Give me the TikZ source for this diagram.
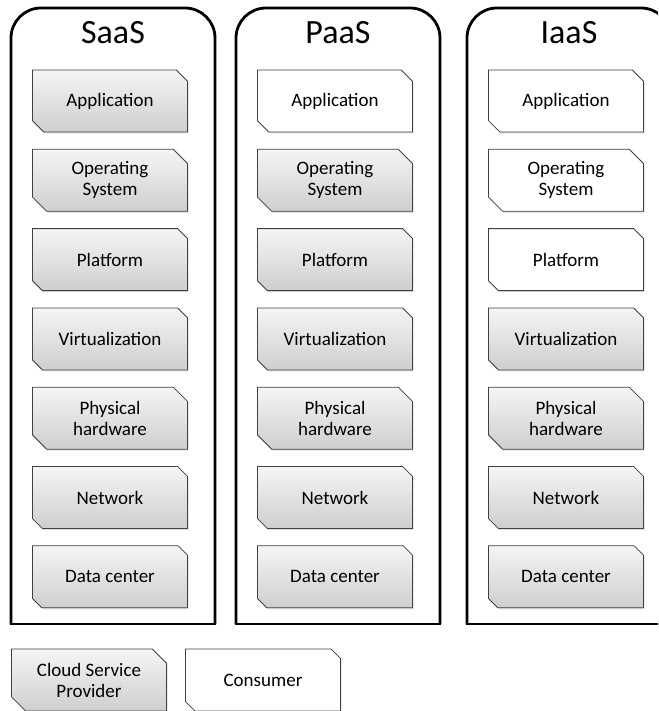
\documentclass[tikz,border=0pt]{standalone}
\usepackage{fontspec}
\setmainfont{Carlito}
\usetikzlibrary{shapes.misc,shadows}
\begin{document}
\begin{tikzpicture}[x=1pt,y=-1pt]
    \tikzstyle{layer}=[chamfered rectangle,chamfered rectangle corners={north east,south west},
      chamfered rectangle xsep=11pt,draw=black!75,line width=0.8pt,minimum width=155pt,minimum height=62pt,
      inner sep=0pt,align=center,font=\fontsize{19}{21}\selectfont,
      drop shadow={opacity=0.25,shadow xshift=1pt,shadow yshift=-1.5pt}]
    \tikzset{
    provider/.style={layer,top color=gray!8,bottom color=gray!38},
    consumer/.style={layer,fill=white},
    column/.style={line width=2.8pt,rounded corners=30pt},
    title/.style={font=\fontsize{34}{38}\selectfont,inner sep=0pt}
    }
    \clip (0,0) rectangle (658,711);
    \fill[white] (0,0) rectangle (658,711);
    % the three service models
    \foreach \col/\cx/\name/\nw in {saas/110/SaaS/0,paas/335/PaaS/1,iaas/566/IaaS/3}{
      \node[title] (\col-title) at (\cx+3,33) {\name};
      \draw[column] (\cx-99,624) -- (\cx-99,8) -- (\cx+105,8) -- (\cx+105,624);
      \draw[line width=2.8pt] (\cx-100.4,624) -- (\cx+106.4,624);
      \foreach \i/\txt in {1/Application,2/{Operating\\System},3/Platform,4/Virtualization,
        5/{Physical\\hardware},6/Network,7/Data center}{
        \ifnum\i>\nw \def\kind{provider}\else\def\kind{consumer}\fi
        \node[\kind] (\col-\i) at (\cx,{101+79.3*(\i-1)}) {\txt};
      }
    }
    % legend
    \node[provider] (provider) at (89,680) {Cloud Service\\Provider};
    \node[consumer] (consumer) at (263,680) {Consumer};
\end{tikzpicture}
\end{document}
